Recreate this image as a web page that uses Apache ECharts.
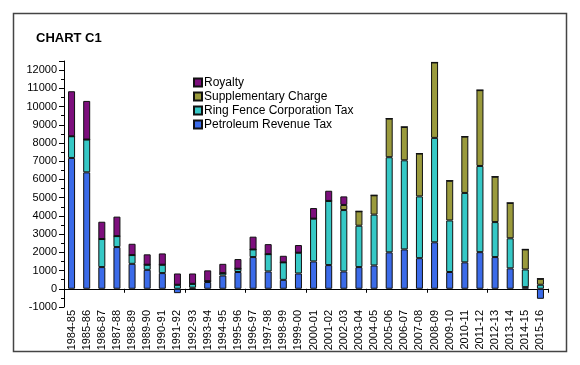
<!DOCTYPE html>
<html><head><meta charset="utf-8">
<script src="https://cdn.jsdelivr.net/npm/echarts@6/dist/echarts.min.js"></script>
<style>html,body{margin:0;padding:0;background:#fff}#c{width:580px;height:365px}</style>
</head><body><div id="c"></div>
<script>
const categories = ['1984-85','1985-86','1986-87','1987-88','1988-89','1989-90','1990-91','1991-92','1992-93','1993-94','1994-95','1995-96','1996-97','1997-98','1998-99','1999-00','2000-01','2001-02','2002-03','2003-04','2004-05','2005-06','2006-07','2007-08','2008-09','2009-10','2010-11','2011-12','2012-13','2013-14','2014-15','2015-16'];
const petroleumRevenueTax = [7180,6390,1190,2290,1370,1040,860,-240,60,370,730,920,1740,950,490,840,1500,1300,950,1190,1280,2000,2160,1680,2550,920,1450,2010,1740,1120,90,-550];
const ringFenceCorpTax = [1190,1800,1540,600,480,280,460,220,210,50,130,180,420,950,960,1140,2350,3520,3370,2270,2790,5220,4890,3390,5730,2830,3810,4730,1920,1650,970,220];
const supplementaryCharge = [0,0,0,0,0,0,0,0,0,0,0,0,0,0,0,0,0,0,280,790,1060,2120,1830,2350,4140,2180,3090,4160,2490,1940,1100,330];
const royalty = [2470,2120,950,1070,620,570,620,620,570,590,510,530,700,550,360,420,580,560,470,0,0,0,0,0,0,0,0,0,0,0,0,0];
const yTicks = [-1000,0,1000,2000,3000,4000,5000,6000,7000,8000,9000,10000,11000,12000];

const chart = echarts.init(document.getElementById('c'), null, {renderer:'canvas'});
const font = 'Liberation Sans, Arial, sans-serif';
function ser(name, data, color){
  return {name, type:'bar', stack:'total', data, barWidth:7, xAxisIndex:0,
    itemStyle:{color, borderColor:'#111', borderWidth:1}, animation:false};
}
chart.setOption({
  animation:false,
  textStyle:{fontFamily:font},
  graphic:[{type:'rect', shape:{x:13.5,y:13.5,width:553,height:338}, style:{fill:'none', stroke:'#444', lineWidth:1.5}, silent:true}],
  title:{text:'CHART C1', left:31, top:27, textStyle:{fontFamily:font, fontSize:13, fontWeight:'bold', color:'#000'}},
  legend:{orient:'vertical', left:188, top:71, itemWidth:8, itemHeight:8, itemGap:1,
    icon:'rect',
    data:['Royalty','Supplementary Charge','Ring Fence Corporation Tax','Petroleum Revenue Tax'],
    textStyle:{fontFamily:font, fontSize:12, color:'#000', padding:[0,0,0,-3], lineHeight:13}},
  grid:{left:64, right:32, top:61, bottom:58, outerBoundsMode:'none', containLabel:false},
  xAxis:[{type:'category', data:categories, boundaryGap:true, position:'bottom',
    axisLine:{onZero:true, lineStyle:{color:'#000', width:1}},
    axisTick:{show:true, length:4, lineStyle:{color:'#000'}},
    axisLabel:{show:false}},
   {type:'category', data:categories, boundaryGap:true, position:'bottom',
    axisLine:{show:false, onZero:false}, axisTick:{show:false},
    axisLabel:{rotate:90, margin:3, fontSize:11, color:'#000', fontFamily:font, interval:0}}],
  yAxis:{type:'value', min:-1000, max:12500, interval:1000,
    axisLine:{show:true, lineStyle:{color:'#000'}},
    axisTick:{show:true, length:5, inside:false, lineStyle:{color:'#000'}},
    minorTick:{show:true, splitNumber:2, length:3, lineStyle:{color:'#000'}},
    splitLine:{show:false},
    axisLabel:{fontSize:11, color:'#000', margin:7, fontFamily:font,
      formatter:v => yTicks.includes(v) ? String(v) : ''}},
  series:[
    ser('Petroleum Revenue Tax', petroleumRevenueTax, '#3b6be9'),
    ser('Ring Fence Corporation Tax', ringFenceCorpTax, '#36c8c6'),
    ser('Supplementary Charge', supplementaryCharge, '#9a9a3c'),
    ser('Royalty', royalty, '#7d0f7d')
  ]
});
</script></body></html>
